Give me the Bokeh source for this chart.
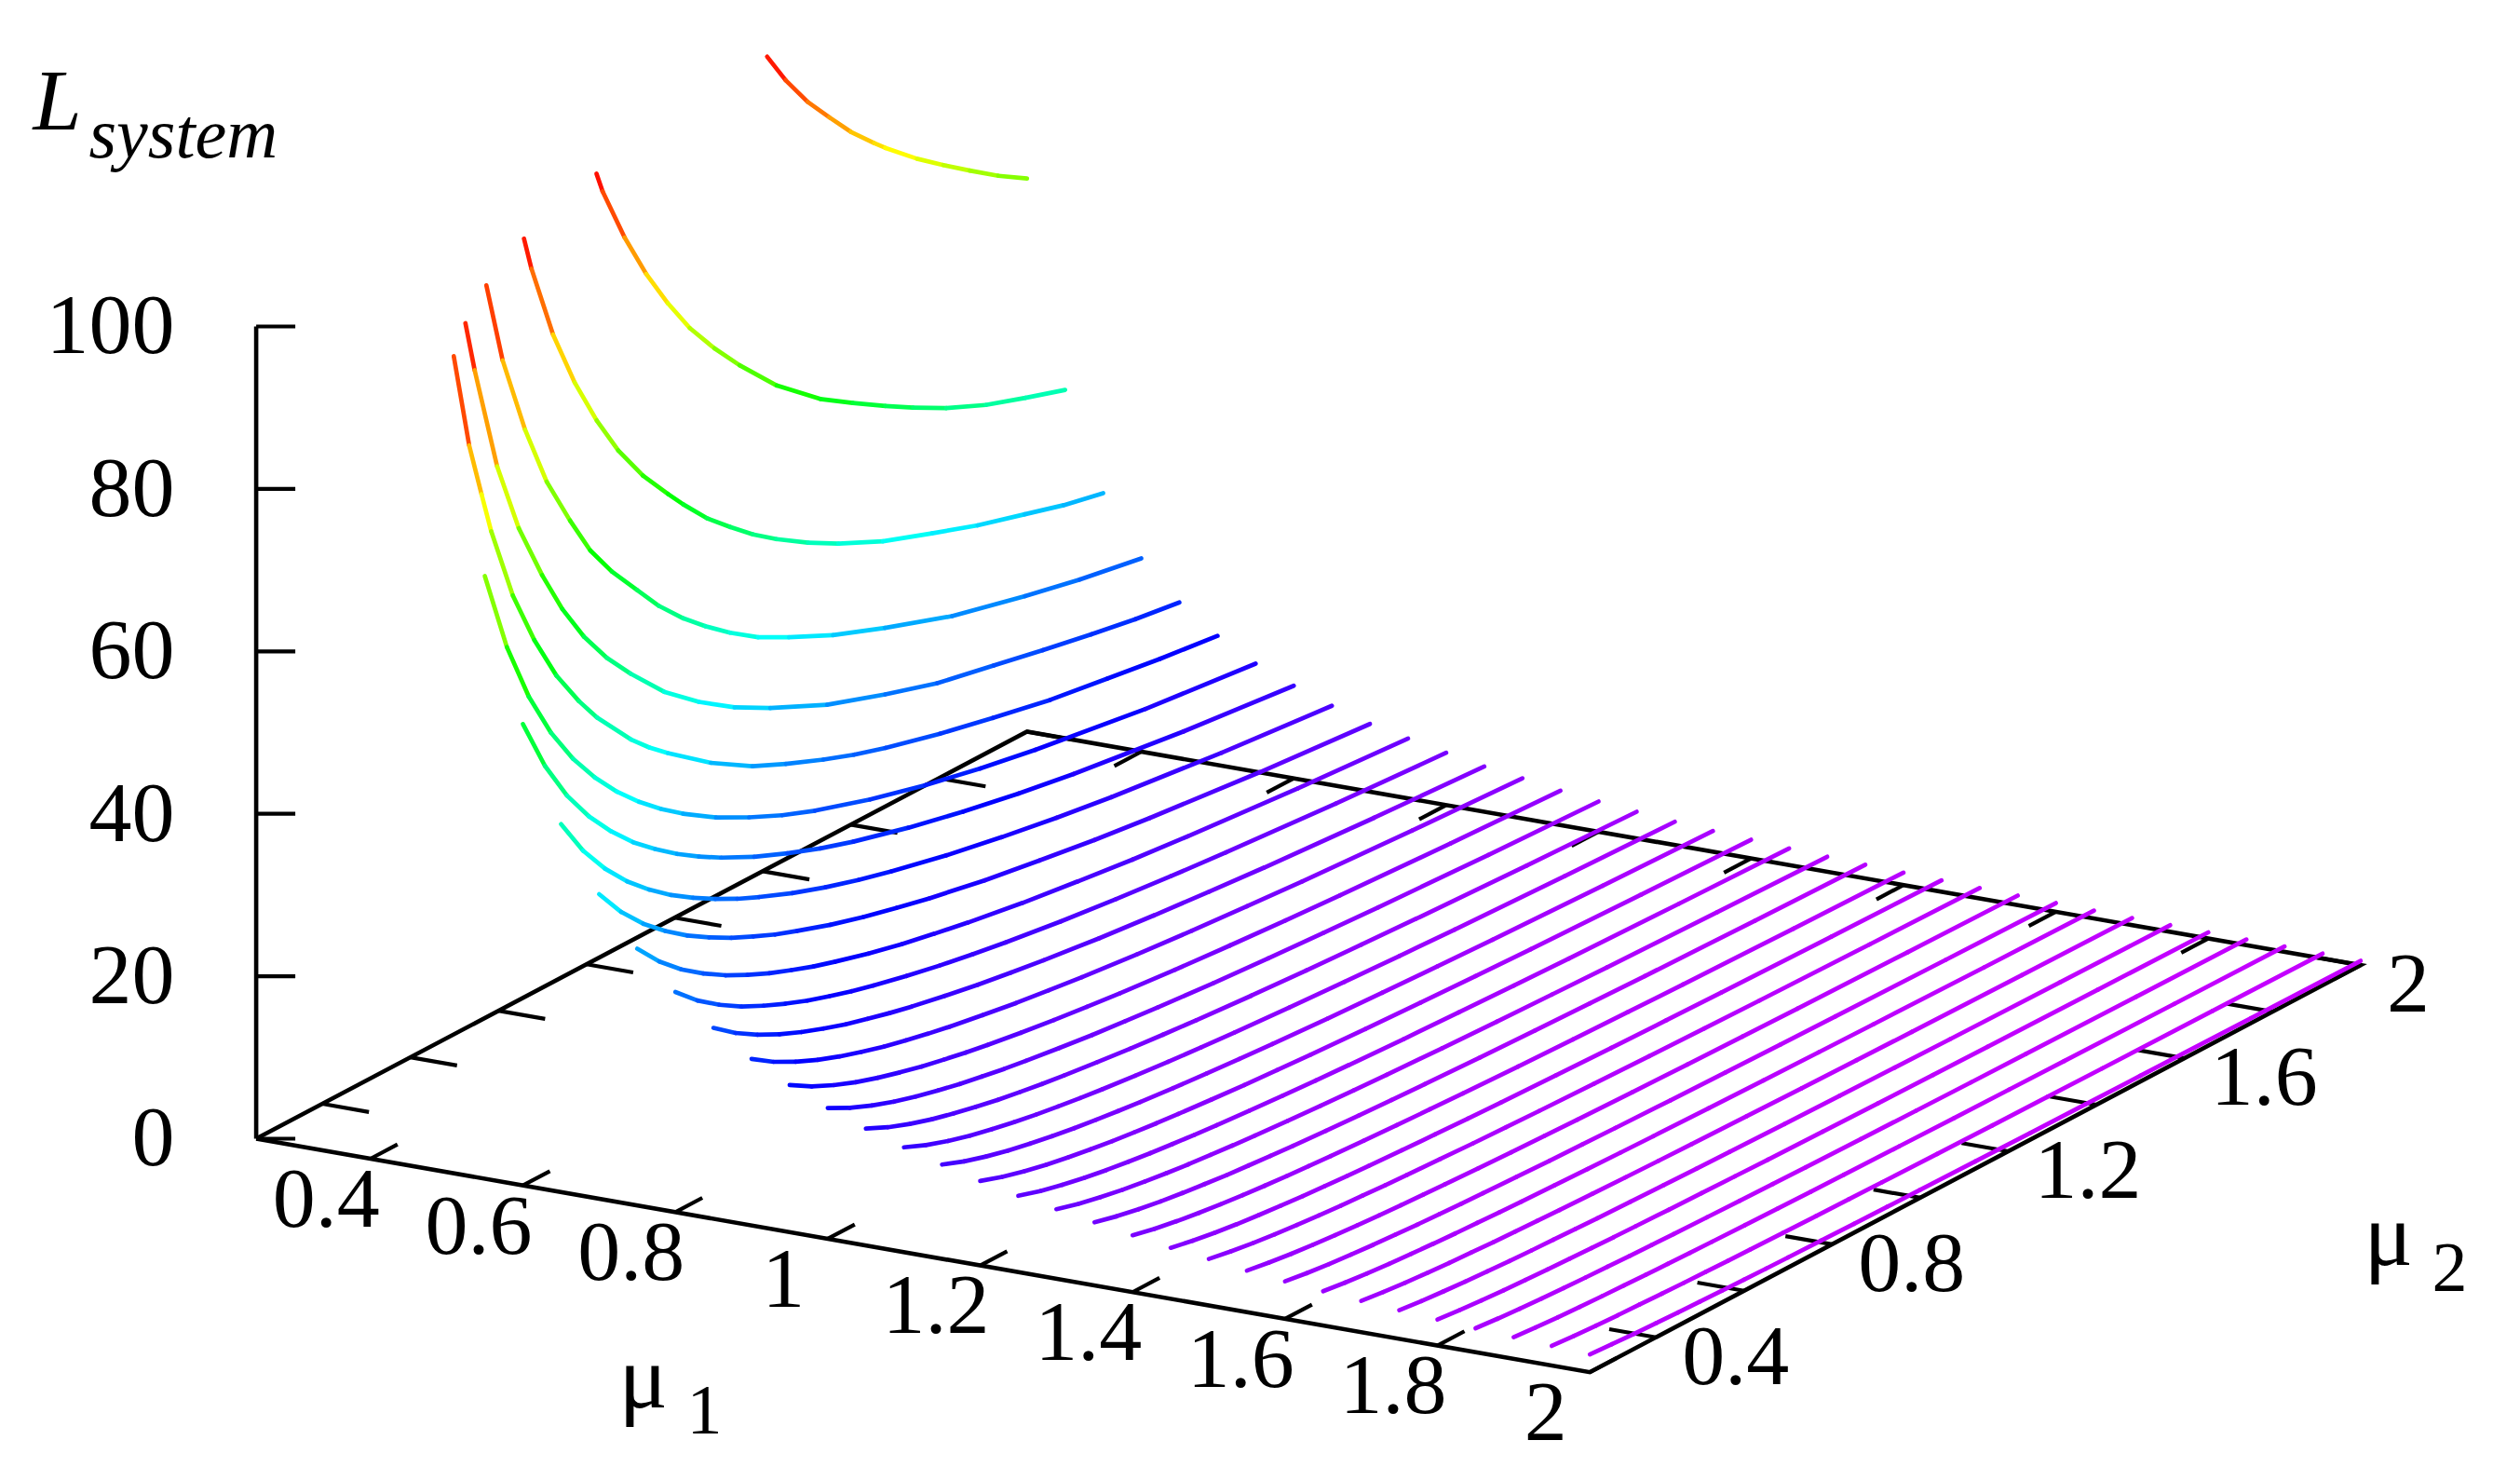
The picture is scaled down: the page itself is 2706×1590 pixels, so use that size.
import colorsys
from bokeh.plotting import figure
from bokeh.embed import file_html
from bokeh.resources import INLINE
from bokeh.models import Range1d, ColumnDataSource

# ---- axis ticks and labels -------------------------------------------------
mu1_ticks = [0.4, 0.6, 0.8, 1.0, 1.2, 1.4, 1.6, 1.8, 2.0]
mu1_tick_labels = ["0.4", "0.6", "0.8", "1", "1.2", "1.4", "1.6", "1.8", "2"]
mu2_ticks = [0.4, 0.6, 0.8, 1.0, 1.2, 1.4, 1.6, 1.8, 2.0]
mu2_label_values = [0.4, 0.8, 1.2, 1.6, 2.0]
mu2_tick_labels = ["0.4", "0.8", "1.2", "1.6", "2"]
z_ticks = [0, 20, 40, 60, 80, 100]
z_tick_labels = ["0", "20", "40", "60", "80", "100"]

# ---- curves clipped at L = 100: their own mu2 samples ------------------------
mu2_a = [1.41, 1.452, 1.502, 1.551, 1.60, 1.653, 1.678, 1.75, 1.81, 1.87, 1.935, 2.0]
L_a = [100, 95.9, 91.8, 88.5, 85.3, 82.4, 81.1, 77.7, 75.2, 72.8, 70.3, 68.1]
mu2_b = [0.936, 0.95, 1.0, 1.049, 1.098, 1.148, 1.204, 1.261, 1.345, 1.444, 1.518, 1.592, 1.655, 1.73, 1.82, 1.91, 2.0]
L_b = [100, 97.4, 90.3, 84.4, 79.4, 74.9, 70.8, 67.1, 62.2, 57.7, 55.1, 52.6, 50.6, 48.4, 46.2, 44.5, 42.9]
mu2_c = [0.685, 0.702, 0.751, 0.80, 0.85, 0.899, 0.955, 1.012, 1.047, 1.10, 1.153, 1.205, 1.258, 1.33, 1.399, 1.5, 1.611, 1.715, 1.822, 1.91, 2.0]
L_c = [100, 95.8, 86.3, 79, 72.9, 67.8, 63.1, 59.2, 56.9, 53.7, 51.1, 48.7, 46.6, 44.1, 42, 39.4, 37.2, 35.2, 33.5, 32.1, 31]
mu2_d = [0.513, 0.55, 0.601, 0.65, 0.703, 0.749, 0.798, 0.855, 0.905, 0.96, 1.01, 1.066, 1.13, 1.2, 1.3, 1.418, 1.57, 1.736, 1.86, 2.0]
L_d = [100, 89.7, 79.7, 71.9, 65.6, 60.6, 56.6, 52.7, 49.3, 46.2, 43.8, 41.4, 39, 37, 34.4, 31.9, 29, 26.7, 25.2, 23.8]
mu2_e = [0.379, 0.40, 0.451, 0.50, 0.553, 0.599, 0.648, 0.70, 0.754, 0.83, 0.909, 0.99, 1.071, 1.2, 1.332, 1.45, 1.578, 1.69, 1.8, 1.9, 2.0]
L_e = [100, 93.6, 80.3, 71.3, 64, 58.5, 53.7, 49.6, 46.1, 41.7, 38.2, 35.2, 32.8, 29.5, 27, 25, 23.5, 22.2, 21, 20, 19.2]
mu2_f = [0.266, 0.301, 0.329, 0.351, 0.40, 0.449, 0.499, 0.55, 0.591, 0.668, 0.71, 0.752, 0.85, 0.944, 1.02, 1.105, 1.175, 1.246, 1.37, 1.49, 1.62, 1.75, 1.87, 2.0]
L_f = [100, 88, 81.2, 76, 66.7, 59.8, 54, 49.4, 46.2, 41.3, 39.1, 37.2, 33.2, 30.1, 28.2, 26.3, 24.9, 23.7, 21.9, 20.4, 18.9, 17.8, 16.8, 15.9]

# ---- the other curves, on a shared mu2 grid ----------------------------------
mu2_grid = [0.25, 0.3, 0.35, 0.4, 0.45, 0.5, 0.55, 0.6, 0.65, 0.7, 0.775, 0.85, 0.925, 1.0, 1.125, 1.25, 1.375, 1.5, 1.75, 2.0]
L_055 = [74.2, 64.03, 56.48, 50.63, 46.0, 42.23, 39.06, 36.38, 34.07, 32.06, 29.44, 27.31, 25.42, 23.84, 21.64, 19.82, 18.29, 17.01, 14.88, 13.3]
L_060 = [56.8, 50.22, 45.13, 41.14, 37.87, 35.1, 32.83, 30.79, 29.02, 27.47, 25.43, 23.7, 22.16, 20.84, 18.98, 17.39, 16.03, 14.85, 12.94, 11.4]
L_065 = [45.3, 40.61, 36.95, 33.96, 31.51, 29.41, 27.63, 26.07, 24.65, 23.44, 21.77, 20.34, 19.1, 18, 16.4, 15.05, 13.87, 12.84, 11.14, 9.75]
L_070 = [37.5, 33.88, 31, 28.67, 26.68, 25.02, 23.53, 22.28, 21.08, 20.09, 18.69, 17.5, 16.48, 15.51, 14.14, 13.01, 11.96, 11.08, 9.56, 8.34]
L_075 = [31.6, 28.6, 26.2, 24.26, 22.61, 21.23, 19.99, 18.95, 17.96, 17.13, 15.97, 14.98, 14.13, 13.33, 12.19, 11.25, 10.37, 9.65, 8.39, 7.37]
L_080 = [27.1, 24.62, 22.66, 21.02, 19.68, 18.5, 17.45, 16.56, 15.73, 15.01, 14.04, 13.17, 12.42, 11.72, 10.73, 9.88, 9.14, 8.48, 7.34, 6.43]
L_085 = [23.5, 21.44, 19.79, 18.41, 17.26, 16.26, 15.34, 14.59, 13.87, 13.24, 12.4, 11.63, 10.97, 10.36, 9.46, 8.71, 8.04, 7.43, 6.41, 5.57]
L_090 = [20.5, 18.71, 17.28, 16.08, 15.08, 14.21, 13.42, 12.76, 12.14, 11.59, 10.86, 10.19, 9.62, 9.09, 8.31, 7.65, 7.08, 6.55, 5.66, 4.93]
L_095 = [18.1, 16.5, 15.23, 14.16, 13.27, 12.5, 11.79, 11.21, 10.65, 10.17, 9.51, 8.92, 8.41, 7.93, 7.24, 6.66, 6.14, 5.67, 4.88, 4.23]
L_100 = [16.1, 14.68, 13.54, 12.58, 11.79, 11.1, 10.47, 9.95, 9.45, 9.02, 8.44, 7.9, 7.45, 7.03, 6.41, 5.89, 5.43, 5.01, 4.3, 3.72]
L_105 = [14.4, 13.12, 12.1, 11.24, 10.53, 9.91, 9.34, 8.87, 8.43, 8.04, 7.52, 7.04, 6.63, 6.25, 5.69, 5.23, 4.81, 4.44, 3.8, 3.28]
L_110 = [12.9, 11.75, 10.82, 10.05, 9.41, 8.85, 8.34, 7.91, 7.51, 7.16, 6.69, 6.26, 5.89, 5.55, 5.05, 4.63, 4.25, 3.91, 3.34, 2.87]
L_115 = [11.6, 10.56, 9.73, 9.03, 8.45, 7.94, 7.48, 7.1, 6.74, 6.42, 5.99, 5.61, 5.27, 4.97, 4.51, 4.13, 3.8, 3.49, 2.98, 2.55]
L_120 = [10.4, 9.47, 8.72, 8.1, 7.58, 7.13, 6.71, 6.37, 6.05, 5.77, 5.39, 5.04, 4.74, 4.46, 4.06, 3.72, 3.42, 3.14, 2.68, 2.3]
L_125 = [9.4, 8.55, 7.88, 7.31, 6.84, 6.43, 6.06, 5.75, 5.45, 5.2, 4.85, 4.53, 4.26, 4.01, 3.64, 3.34, 3.06, 2.81, 2.4, 2.05]
L_130 = [8.57, 7.8, 7.18, 6.66, 6.23, 5.85, 5.51, 5.23, 4.96, 4.73, 4.41, 4.12, 3.87, 3.64, 3.31, 3.03, 2.78, 2.55, 2.17, 1.85]
L_135 = [7.78, 7.08, 6.52, 6.05, 5.66, 5.32, 5.0, 4.75, 4.5, 4.29, 4.0, 3.74, 3.52, 3.31, 3.0, 2.75, 2.52, 2.31, 1.97, 1.68]
L_140 = [7.0, 6.37, 5.87, 5.45, 5.1, 4.79, 4.51, 4.28, 4.06, 3.87, 3.61, 3.38, 3.18, 2.99, 2.72, 2.49, 2.28, 2.1, 1.79, 1.53]
L_145 = [6.28, 5.72, 5.27, 4.89, 4.58, 4.31, 4.06, 3.85, 3.66, 3.49, 3.26, 3.05, 2.87, 2.7, 2.46, 2.25, 2.07, 1.91, 1.63, 1.4]
L_150 = [5.73, 5.22, 4.81, 4.47, 4.18, 3.93, 3.71, 3.52, 3.34, 3.18, 2.98, 2.78, 2.62, 2.47, 2.25, 2.06, 1.89, 1.74, 1.49, 1.28]
L_155 = [5.12, 4.67, 4.3, 4.0, 3.75, 3.52, 3.32, 3.16, 3.0, 2.86, 2.67, 2.5, 2.36, 2.22, 2.03, 1.86, 1.72, 1.58, 1.36, 1.17]
L_160 = [4.62, 4.21, 3.88, 3.61, 3.38, 3.19, 3.0, 2.86, 2.71, 2.59, 2.42, 2.27, 2.14, 2.02, 1.84, 1.69, 1.56, 1.44, 1.24, 1.07]
L_165 = [4.22, 3.85, 3.55, 3.3, 3.09, 2.91, 2.74, 2.62, 2.47, 2.36, 2.21, 2.07, 1.95, 1.84, 1.68, 1.54, 1.42, 1.31, 1.12, 0.97]
L_170 = [3.85, 3.51, 3.23, 3.0, 2.81, 2.65, 2.49, 2.37, 2.25, 2.15, 2.01, 1.88, 1.77, 1.67, 1.52, 1.39, 1.28, 1.18, 1.01, 0.87]
L_175 = [3.53, 3.22, 2.97, 2.76, 2.58, 2.43, 2.29, 2.18, 2.07, 1.97, 1.85, 1.73, 1.63, 1.54, 1.4, 1.29, 1.19, 1.09, 0.94, 0.81]
L_180 = [3.2, 2.92, 2.69, 2.5, 2.35, 2.21, 2.09, 1.98, 1.88, 1.8, 1.68, 1.58, 1.49, 1.4, 1.28, 1.18, 1.09, 1.0, 0.87, 0.75]
L_185 = [2.95, 2.69, 2.48, 2.31, 2.17, 2.04, 1.93, 1.83, 1.74, 1.66, 1.56, 1.46, 1.38, 1.3, 1.19, 1.09, 1.01, 0.93, 0.81, 0.7]
L_190 = [2.67, 2.44, 2.25, 2.1, 1.97, 1.86, 1.76, 1.67, 1.59, 1.52, 1.43, 1.34, 1.26, 1.2, 1.1, 1.01, 0.94, 0.87, 0.75, 0.66]
L_195 = [2.42, 2.21, 2.04, 1.9, 1.79, 1.68, 1.59, 1.52, 1.44, 1.38, 1.29, 1.22, 1.15, 1.09, 0.99, 0.92, 0.85, 0.79, 0.69, 0.6]
L_200 = [2.2, 2.01, 1.85, 1.73, 1.62, 1.53, 1.44, 1.37, 1.3, 1.24, 1.17, 1.09, 1.03, 0.98, 0.89, 0.82, 0.76, 0.70, 0.61, 0.53]

curves = [
    (0.25, mu2_a, L_a), (0.30, mu2_b, L_b), (0.35, mu2_c, L_c),
    (0.40, mu2_d, L_d), (0.45, mu2_e, L_e), (0.50, mu2_f, L_f),
    (0.55, mu2_grid, L_055), (0.60, mu2_grid, L_060), (0.65, mu2_grid, L_065),
    (0.70, mu2_grid, L_070), (0.75, mu2_grid, L_075), (0.80, mu2_grid, L_080),
    (0.85, mu2_grid, L_085), (0.90, mu2_grid, L_090), (0.95, mu2_grid, L_095),
    (1.00, mu2_grid, L_100), (1.05, mu2_grid, L_105), (1.10, mu2_grid, L_110),
    (1.15, mu2_grid, L_115), (1.20, mu2_grid, L_120), (1.25, mu2_grid, L_125),
    (1.30, mu2_grid, L_130), (1.35, mu2_grid, L_135), (1.40, mu2_grid, L_140),
    (1.45, mu2_grid, L_145), (1.50, mu2_grid, L_150), (1.55, mu2_grid, L_155),
    (1.60, mu2_grid, L_160), (1.65, mu2_grid, L_165), (1.70, mu2_grid, L_170),
    (1.75, mu2_grid, L_175), (1.80, mu2_grid, L_180), (1.85, mu2_grid, L_185),
    (1.90, mu2_grid, L_190), (1.95, mu2_grid, L_195), (2.00, mu2_grid, L_200),
]

# ---- orthographic projection of the 3-D box onto the page --------------------
MU_MIN, MU_MAX = 0.25, 2.0
ORIGIN = (274.6, 1222.0)
MU1_VEC = (1432.1, 250.7)
MU2_VEC = (827.7, -437.0)
Z_SCALE = 8.72


def proj(mu1, mu2, z=0.0):
    a = (mu1 - MU_MIN) / (MU_MAX - MU_MIN)
    b = (mu2 - MU_MIN) / (MU_MAX - MU_MIN)
    return (ORIGIN[0] + a * MU1_VEC[0] + b * MU2_VEC[0],
            ORIGIN[1] + a * MU1_VEC[1] + b * MU2_VEC[1] - z * Z_SCALE)


def colour(level):
    hue = min(max((100.0 - level) * 2.88, 0.0), 288.0) / 360.0
    r, g, b = colorsys.hsv_to_rgb(hue, 1.0, 1.0)
    return "#%02x%02x%02x" % (round(r * 255), round(g * 255), round(b * 255))


p = figure(width=2690, height=1574, output_backend="svg", toolbar_location=None,
           x_range=Range1d(0, 2690), y_range=Range1d(1574, 0), min_border=0,
           outline_line_color=None)
p.axis.visible = False
p.xgrid.visible = False
p.ygrid.visible = False
p.background_fill_color = "white"
p.border_fill_color = "white"

# ---- box edges and ticks ------------------------------------------------------
frame = [
    [proj(MU_MIN, MU_MIN), proj(MU_MAX, MU_MIN), proj(MU_MAX, MU_MAX),
     proj(MU_MIN, MU_MAX), proj(MU_MIN, MU_MIN)],
    [proj(MU_MIN, MU_MIN, 0), proj(MU_MIN, MU_MIN, 100)],
]
p.multi_line([[q[0] for q in f] for f in frame], [[q[1] for q in f] for f in frame],
             line_color="black", line_width=4.6, line_join="miter")

TICK_FRAC = 0.035
ZTICK_LEN = 42
txs, tys = [], []
for m in mu1_ticks:
    for base, sign in ((MU_MIN, 1), (MU_MAX, -1)):
        x0, y0 = proj(m, base)
        txs.append([x0, x0 + sign * TICK_FRAC * MU2_VEC[0]])
        tys.append([y0, y0 + sign * TICK_FRAC * MU2_VEC[1]])
for m in mu2_ticks:
    for base, sign in ((MU_MAX, -1), (MU_MIN, 1)):
        x0, y0 = proj(base, m)
        txs.append([x0, x0 + sign * TICK_FRAC * MU1_VEC[0]])
        tys.append([y0, y0 + sign * TICK_FRAC * MU1_VEC[1]])
for z in z_ticks:
    x0, y0 = proj(MU_MIN, MU_MIN, z)
    txs.append([x0, x0 + ZTICK_LEN])
    tys.append([y0, y0])
p.multi_line(txs, tys, line_color="black", line_width=4.2)

# ---- the curves, one flat colour per sampled stretch ---------------------------
sx, sy, sc = [], [], []
for mu1, mu2s, ls in curves:
    for k in range(len(ls) - 1):
        x0, y0 = proj(mu1, mu2s[k], ls[k])
        x1, y1 = proj(mu1, mu2s[k + 1], ls[k + 1])
        sx.append([x0, x1])
        sy.append([y0, y1])
        sc.append(colour((ls[k] + ls[k + 1]) / 2))
p.multi_line(xs="xs", ys="ys", line_color="c", line_width=4.7, line_cap="round",
             source=ColumnDataSource(dict(xs=sx, ys=sy, c=sc)))

# ---- texts --------------------------------------------------------------------
SERIF = "Liberation Serif"
TICK_SIZE = 92
BASELINE_SHIFT = 0.36   # the renderer's alphabetic baseline sits low by this many em


def put(x, y, s, size=TICK_SIZE, align="left", style="normal"):
    p.text([x], [y - BASELINE_SHIFT * size], text=[s], text_font=SERIF,
           text_font_size=f"{size}px", text_align=align,
           text_baseline="alphabetic", text_font_style=style, text_color="black")


for z, s in zip(z_ticks, z_tick_labels):
    x0, y0 = proj(MU_MIN, MU_MIN, z)
    put(187, y0 + 32, s, align="right")
for m, s in zip(mu1_ticks, mu1_tick_labels):
    x0, y0 = proj(m, MU_MIN)
    put(x0 - 47.5, y0 + 76, s, align="center")
for m, s in zip(mu2_label_values, mu2_tick_labels):
    x0, y0 = proj(MU_MAX, m)
    put(x0 + 28, y0 + 53, s)

put(664, 1513, "μ", size=98)
put(737, 1541, "1", size=76)
put(2538, 1360, "μ", size=98)
put(2611, 1388, "2", size=76)
put(35, 140, "L", size=94, style="italic")
put(95, 170, "system", size=76, style="italic")

open("out.html", "w").write(file_html(p, INLINE))
